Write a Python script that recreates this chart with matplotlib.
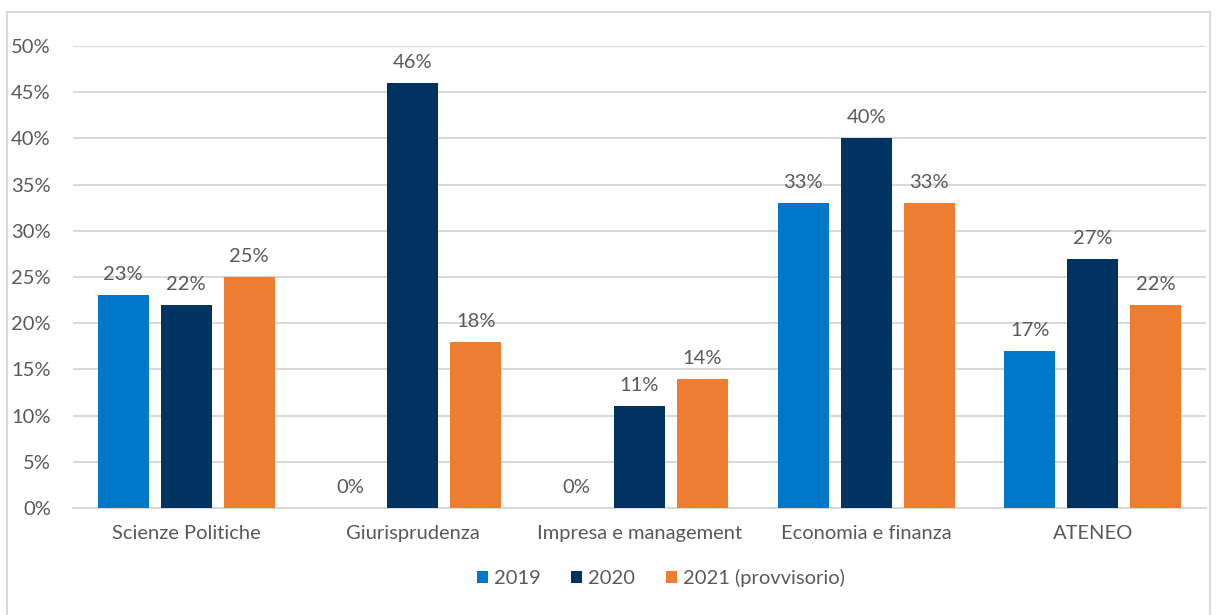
import matplotlib
matplotlib.use("Agg")
import matplotlib.pyplot as plt
import numpy as np
from matplotlib.patches import Rectangle

categories = ["Scienze Politiche", "Giurisprudenza", "Impresa e management", "Economia e finanza", "ATENEO"]
series_names = ["2019", "2020", "2021 (provvisorio)"]
v2019 = [23, 0, 0, 33, 17]
v2020 = [22, 46, 11, 40, 27]
v2021 = [25, 18, 14, 33, 22]
colors = ["#0077C8", "#003361", "#ED7D31"]
yticks = [0, 5, 10, 15, 20, 25, 30, 35, 40, 45, 50]

plt.rcParams['font.family'] = ['Lato', 'DejaVu Sans']
text_color = "#595959"
fs = 14.5

fig = plt.figure(figsize=(12.21, 6.15), dpi=100)
ax = fig.add_axes([73/1221, 107/615, 1133/1221, 462/615])

fig.patches.append(Rectangle((7/1221, -0.01), 1203/1221, (615-12)/615 + 0.01,
                             transform=fig.transFigure, fill=False,
                             edgecolor="#D9D9D9", linewidth=1.5))

x = np.arange(len(categories))
bw = 51/226.6
step = 63/226.6
allv = [v2019, v2020, v2021]
for i, (vals, name, c) in enumerate(zip(allv, series_names, colors)):
    pos = x + (i - 1) * step
    ax.bar(pos, vals, width=bw, color=c, label=name, zorder=3)
    for p, v in zip(pos, vals):
        ax.text(p, v + 1.3, f"{v}%", ha="center", va="bottom", fontsize=fs, color=text_color)

ax.set_xlim(-0.5, len(categories) - 0.5)
ax.set_ylim(0, 50)
ax.set_yticks(yticks)
ax.set_yticklabels([f"{t}%" for t in yticks])
ax.set_xticks(x)
ax.set_xticklabels(categories)
ax.tick_params(axis="both", length=0, labelsize=fs, labelcolor=text_color)
ax.tick_params(axis="x", pad=12)
ax.tick_params(axis="y", pad=16)
ax.grid(axis="y", color="#D9D9D9", linewidth=1.5, zorder=0)
for s in ["top", "right", "left"]:
    ax.spines[s].set_visible(False)
ax.spines["bottom"].set_color("#D9D9D9")
ax.spines["bottom"].set_linewidth(1.5)

leg = fig.legend(loc="center", bbox_to_anchor=(661/1221, 1 - 578/615), ncol=3,
                 frameon=False, fontsize=fs, handlelength=0.55, handleheight=0.55,
                 handletextpad=0.3, columnspacing=1.5)
for t in leg.get_texts():
    t.set_color(text_color)

fig.savefig("out.png", dpi=100)
